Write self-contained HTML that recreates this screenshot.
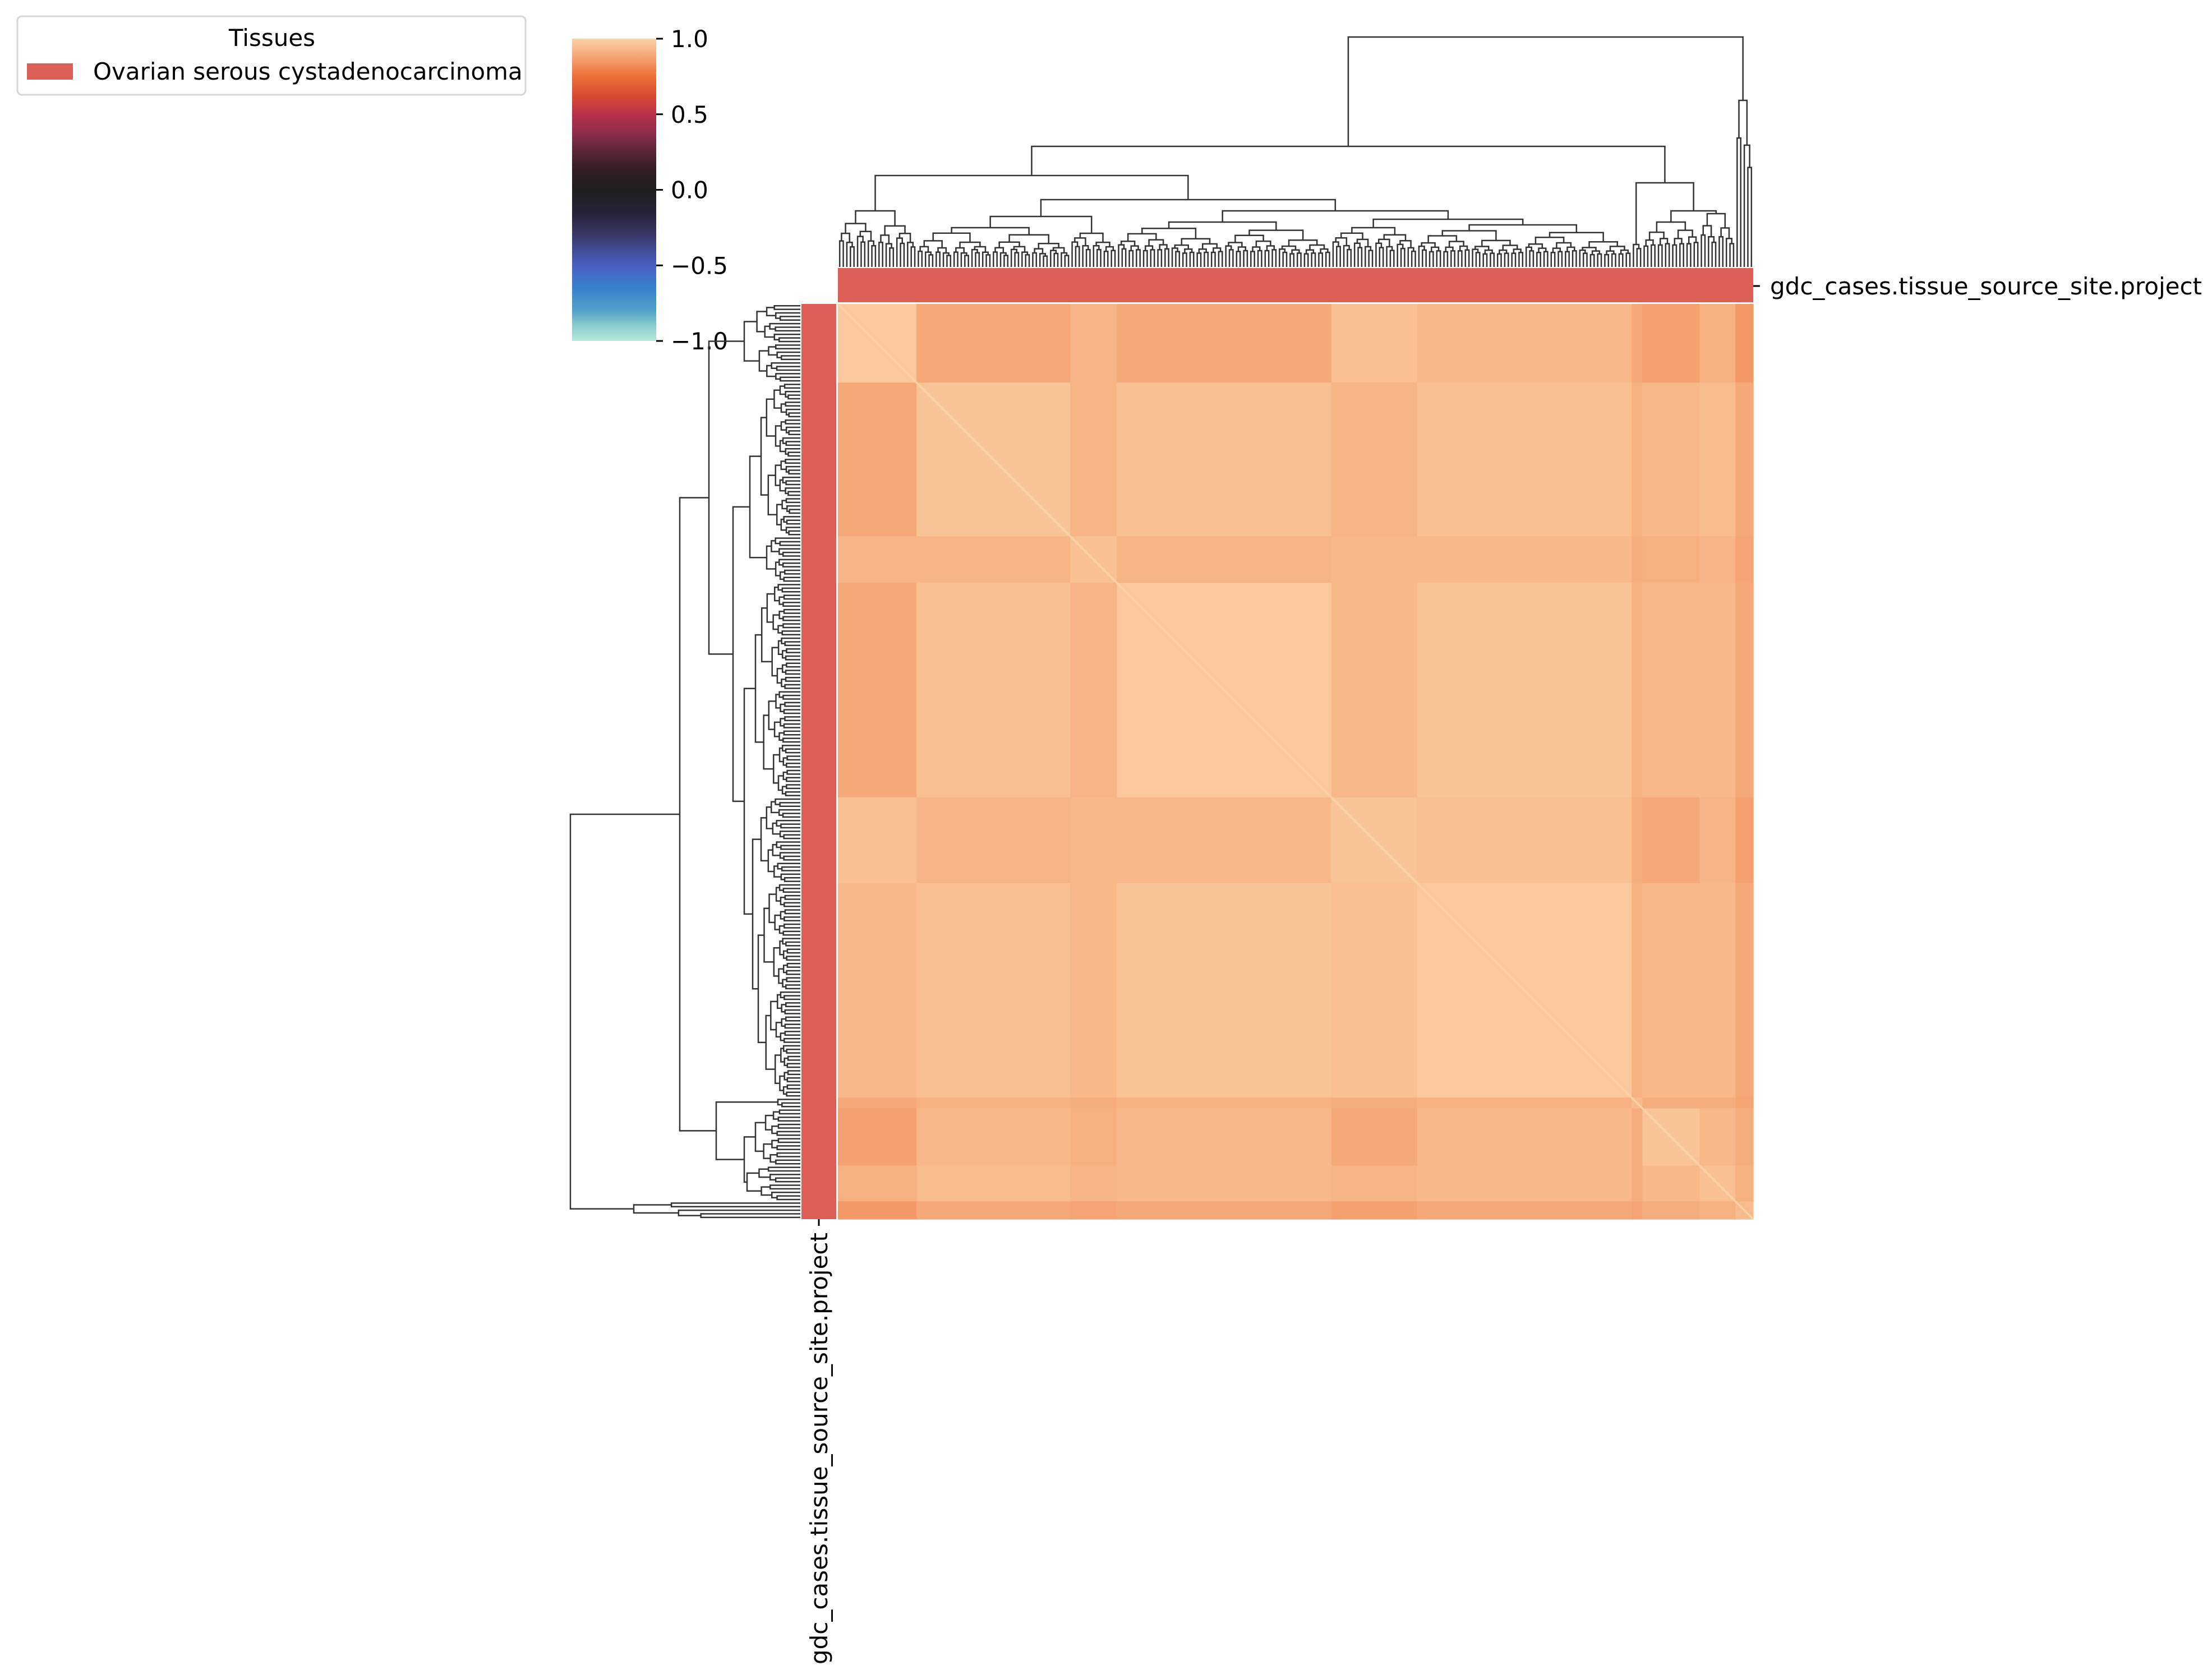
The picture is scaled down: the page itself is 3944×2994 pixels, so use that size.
<!DOCTYPE html>
<html><head><meta charset="utf-8"><style>
html,body{margin:0;padding:0;background:#fff;}
svg{display:block;font-family:"DejaVu Sans","Liberation Sans",sans-serif;}
</style></head><body>
<svg id="fig" width="3944" height="2994" viewBox="0 0 3944 2994" xmlns="http://www.w3.org/2000/svg">
  <defs>
    <linearGradient id="cbgrad" x1="0" y1="1" x2="0" y2="0">
      <stop offset="0" stop-color="#b6e9dc"/>
      <stop offset="0.05" stop-color="#8ccdd0"/>
      <stop offset="0.1" stop-color="#50a2c9"/>
      <stop offset="0.175" stop-color="#3881cf"/>
      <stop offset="0.25" stop-color="#4a5fc2"/>
      <stop offset="0.35" stop-color="#3a3868"/>
      <stop offset="0.42" stop-color="#26233a"/>
      <stop offset="0.5" stop-color="#1f1e1e"/>
      <stop offset="0.56" stop-color="#2f1e22"/>
      <stop offset="0.625" stop-color="#5a2535"/>
      <stop offset="0.685" stop-color="#8b2c4a"/>
      <stop offset="0.75" stop-color="#b9304a"/>
      <stop offset="0.81" stop-color="#d94a31"/>
      <stop offset="0.875" stop-color="#ec7038"/>
      <stop offset="0.94" stop-color="#f5a574"/>
      <stop offset="1" stop-color="#fbd3a9"/>
    </linearGradient>
  </defs>
  <g>
    <rect x="31" y="29" width="906" height="140" rx="8" fill="#fff" stroke="#d6d6d6" stroke-width="3"/>
    <text x="485" y="82" font-size="42" text-anchor="middle">Tissues</text>
    <rect x="48" y="113" width="82" height="29" fill="#dd6057"/>
    <text x="166" y="142" font-size="42">Ovarian serous cystadenocarcinoma</text>
  </g>
  <g>
    <rect x="1020" y="69" width="150" height="539" fill="url(#cbgrad)"/>
    <g id="cbticks"></g>
  </g>
  <rect x="1494" y="478" width="1632" height="61" fill="#dd6057"/>
  <rect x="1429" y="542" width="62" height="1632" fill="#dd6057"/>
  <g id="heat"></g>
  <g id="dtop" stroke="#333" stroke-width="2.5" fill="none"></g>
  <g id="dleft" stroke="#333" stroke-width="2.5" fill="none"></g>
  <line x1="3126" y1="510" x2="3138" y2="510" stroke="#000" stroke-width="3"/>
  <text x="3156" y="525" font-size="42">gdc_cases.tissue_source_site.project</text>
  <line x1="1460" y1="2174" x2="1460" y2="2186" stroke="#000" stroke-width="3"/>
  <text transform="translate(1475,2198) rotate(-90)" font-size="42" text-anchor="end">gdc_cases.tissue_source_site.project</text>
</svg>
<script>
// ---- data ----
const cbTicks = [1.0, 0.5, 0.0, -0.5, -1.0];
const cbTickLabels = ["1.0", "0.5", "0.0", "\u22120.5", "\u22121.0"];
const groupNames = ["A","B","C","D","E","F","G","H","I","J"];
const groupSizes = [22, 43, 13, 60, 24, 60, 3, 16, 10, 5];
const corrA = [0.97,0.89,0.92,0.89,0.95,0.93,0.89,0.87,0.91,0.85];
const corrB = [0.89,0.96,0.92,0.95,0.92,0.95,0.91,0.93,0.94,0.89];
const corrC = [0.92,0.92,0.95,0.92,0.93,0.93,0.90,0.91,0.92,0.88];
const corrD = [0.89,0.95,0.92,0.97,0.93,0.96,0.91,0.93,0.93,0.89];
const corrE = [0.95,0.92,0.93,0.93,0.96,0.95,0.90,0.89,0.92,0.87];
const corrF = [0.93,0.95,0.93,0.96,0.95,0.97,0.91,0.93,0.93,0.89];
const corrG = [0.89,0.91,0.90,0.91,0.90,0.91,0.94,0.90,0.90,0.88];
const corrH = [0.87,0.93,0.91,0.93,0.89,0.93,0.90,0.96,0.93,0.90];
const corrI = [0.91,0.94,0.92,0.93,0.92,0.93,0.90,0.93,0.95,0.91];
const corrJ = [0.85,0.89,0.88,0.89,0.87,0.89,0.88,0.90,0.91,0.94];
const groupInnerHeights = [100, 70, 60, 80, 70, 75, 40, 80, 95, 150];
const groupLinkage = {h:410, c:[
  {h:215, c:[
    {h:163, c:[{g:0},{h:120, c:[{h:90, c:[{g:1},{g:2}]},{h:100, c:[{g:3},{h:85, c:[{g:4},{g:5}]}]}]}]},
    {h:150, c:[{g:6},{h:100, c:[{g:7},{g:8}]}]}
  ]},
  {g:9, top:297}
]};
const corrRows = [corrA,corrB,corrC,corrD,corrE,corrF,corrG,corrH,corrI,corrJ];

// ---- geometry ----
const HX = 1494, HY = 542, HS = 1632;
const N = groupSizes.reduce((a,b)=>a+b,0);
const cell = HS / N;
const NS = "http://www.w3.org/2000/svg";
const cbY = v => 69 + (1 - v) / 2 * 539;
const stops = [[-1,[182,233,220]],[-0.9,[140,205,208]],[-0.8,[80,162,201]],[-0.65,[56,129,207]],[-0.5,[74,95,194]],[-0.3,[58,56,104]],[-0.16,[38,35,58]],[0,[31,30,30]],[0.12,[47,30,34]],[0.25,[90,37,53]],[0.37,[139,44,74]],[0.5,[185,48,74]],[0.62,[217,74,49]],[0.75,[236,112,56]],[0.88,[245,165,116]],[1,[251,211,169]]];
function cmap(v){
  v=Math.max(-1,Math.min(1,v));
  for(let i=1;i<stops.length;i++){
    if(v<=stops[i][0]){
      const a=stops[i-1],b=stops[i],t=(v-a[0])/(b[0]-a[0]);
      const c=a[1].map((x,k)=>Math.round(x+(b[1][k]-x)*t));
      return `rgb(${c[0]},${c[1]},${c[2]})`;
    }
  }
  return "rgb(251,211,169)";
}

const cbg = document.getElementById('cbticks');
cbTicks.forEach((v,i)=>{
  const y = cbY(v);
  const l = document.createElementNS(NS,'line');
  l.setAttribute('x1',1170);l.setAttribute('x2',1182);l.setAttribute('y1',y);l.setAttribute('y2',y);
  l.setAttribute('stroke','#000');l.setAttribute('stroke-width',3);
  
  
  cbg.appendChild(l);
  const t = document.createElementNS(NS,'text');
  t.setAttribute('x',1196);t.setAttribute('y',y+15);t.setAttribute('font-size',42);
  t.textContent = cbTickLabels[i];
  
  
  cbg.appendChild(t);
});

const starts=[];let acc=0;groupSizes.forEach(s=>{starts.push(acc);acc+=s;});
const heat=document.getElementById('heat');
for(let i=0;i<groupSizes.length;i++){
  for(let j=0;j<groupSizes.length;j++){
    const r=document.createElementNS(NS,'rect');
    r.setAttribute('x',HX+starts[j]*cell);
    r.setAttribute('y',HY+starts[i]*cell);
    r.setAttribute('width',groupSizes[j]*cell+0.6);
    r.setAttribute('height',groupSizes[i]*cell+0.6);
    r.setAttribute('fill',cmap(corrRows[i][j]));
    
    
    heat.appendChild(r);
  }
}
const diag=document.createElementNS(NS,'line');
diag.setAttribute('x1',HX);diag.setAttribute('y1',HY);diag.setAttribute('x2',HX+HS);diag.setAttribute('y2',HY+HS);
diag.setAttribute('stroke',cmap(1));diag.setAttribute('stroke-width',3);


heat.appendChild(diag);

const segs=[];
function buildLeaves(a,b,h){
  if(b-a===1) return {pos:a+0.5,h:0};
  const m=Math.floor((a+b)/2);
  const sub=h*0.86;
  const L=buildLeaves(a,m,sub*((m-a)%3===0?1:0.9));
  const R=buildLeaves(m,b,sub*((b-m)%2===0?0.95:0.85));
  segs.push([L.pos,L.h,R.pos,R.h,h]);
  return {pos:(L.pos+R.pos)/2,h:h};
}
function walk(node){
  if(node.g!==undefined){
    const g=node.g;
    const hh=node.top!==undefined?node.top:groupInnerHeights[g];
    return buildLeaves(starts[g],starts[g]+groupSizes[g],hh);
  }
  const L=walk(node.c[0]),R=walk(node.c[1]);
  segs.push([L.pos,L.h,R.pos,R.h,node.h]);
  return {pos:(L.pos+R.pos)/2,h:node.h};
}
walk(groupLinkage);
const dtop=document.getElementById('dtop'), dleft=document.getElementById('dleft');
let dT='',dL='';
segs.forEach(s=>{
  const x1=HX+s[0]*cell,x2=HX+s[2]*cell;
  const y1=476-s[1],y2=476-s[3],yt=476-s[4];
  dT+=`M${x1},${y1}V${yt}H${x2}V${y2}`;
  const a1=HY+s[0]*cell,a2=HY+s[2]*cell;
  const b1=1427-s[1],b2=1427-s[3],bt=1427-s[4];
  dL+=`M${b1},${a1}H${bt}V${a2}H${b2}`;
});
const pT=document.createElementNS(NS,'path');pT.setAttribute('d',dT);


dtop.appendChild(pT);
const pL=document.createElementNS(NS,'path');pL.setAttribute('d',dL);


dleft.appendChild(pL);
</script>
</body></html>
